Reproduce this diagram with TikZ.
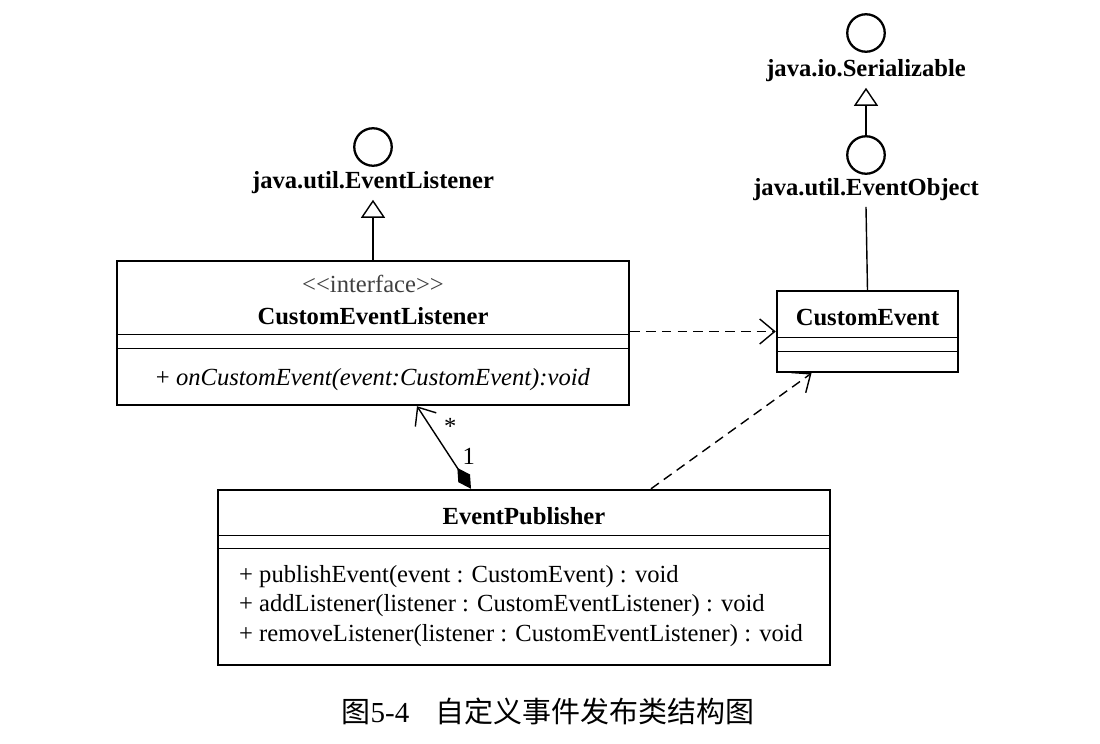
\documentclass[tikz,border=0pt]{standalone}
\usepackage{fontspec}
\setmainfont{Liberation Serif}
\newfontfamily\cjk{Noto Sans CJK SC}
\usetikzlibrary{arrows.meta,calc}

\tikzset{
  classbox/.style={draw, line width=1.4pt, inner sep=0pt},
  sepline/.style={line width=0.8pt},
  lolli/.style={draw, circle, line width=1.3pt, minimum size=0.75cm, inner sep=0pt},
  ifname/.style={font=\fontsize{14}{16.8}\selectfont\bfseries, inner xsep=1pt, inner ysep=3pt},
  realize/.style={line width=0.8pt, -{Triangle[open, length=0.36cm, width=0.48cm, line width=0.8pt]}},
  depend/.style={line width=0.8pt, dash pattern=on 5.5pt off 3.5pt, -{Straight Barb[length=0.3cm, width=0.5cm, line width=0.8pt]}},
  compose/.style={line width=0.8pt, {Diamond[length=0.5cm, width=0.28cm]}-{Straight Barb[length=0.3cm, width=0.5cm, line width=0.8pt]}},
}

\begin{document}
\begin{tikzpicture}[x=0.02cm,y=-0.02cm,every node/.style={font=\fontsize{14}{16.8}\selectfont}]
\useasboundingbox (0,0) rectangle (1100,744);

% interfaces (lollipops)
\node[lolli] (elcirc) at (373,147) {};
\node[ifname] (ellab) at (373,183) {java.util.EventListener};
\node[lolli] (sercirc) at (866,33) {};
\node[ifname] (serlab) at (866,71) {java.io.Serializable};
\node[lolli] (eocirc) at (866,155) {};
\node[ifname] (eolab) at (866,190) {java.util.EventObject};

% CustomEventListener
\node[classbox, minimum width=10.24cm, minimum height=2.88cm] (cel) at (373,333) {};
\draw[sepline] ($(cel.north west)+(0,75)$) -- ($(cel.north east)+(0,75)$);
\draw[sepline] ($(cel.north west)+(0,89)$) -- ($(cel.north east)+(0,89)$);
\node[text=black!75] (celst) at (373,284) {\textless\kern0pt\textless interface\textgreater\kern0pt\textgreater};
\node[font=\fontsize{14}{16.8}\selectfont\bfseries] (celname) at (373,316) {CustomEventListener};
\node (celop) at (373,380) {+ \textit{onCustomEvent(event:CustomEvent):void}};

% CustomEvent
\node[classbox, minimum width=3.62cm, minimum height=1.62cm] (ce) at (867.5,331.5) {};
\draw[sepline] ($(ce.north west)+(0,48)$) -- ($(ce.north east)+(0,48)$);
\draw[sepline] ($(ce.north west)+(0,62)$) -- ($(ce.north east)+(0,62)$);
\node[font=\fontsize{14}{16.8}\selectfont\bfseries] (cename) at (867.5,318) {CustomEvent};

% EventPublisher
\node[classbox, minimum width=12.24cm, minimum height=3.5cm] (ep) at (524,577.5) {};
\draw[sepline] ($(ep.north west)+(0,47)$) -- ($(ep.north east)+(0,47)$);
\draw[sepline] ($(ep.north west)+(0,60)$) -- ($(ep.north east)+(0,60)$);
\node[font=\fontsize{14}{16.8}\selectfont\bfseries] (epname) at (524,516) {EventPublisher};
\node[anchor=west, align=left, font=\fontsize{14}{16.7}\selectfont] (epops) at (233,606)
  {+ publishEvent(event : CustomEvent) : void\\
   + addListener(listener : CustomEventListener) : void\\
   + removeListener(listener : CustomEventListener) : void};

% connectors
\draw[realize] (cel.north) -- (ellab.south);
\draw[realize] (eocirc.north) -- (serlab.south);
\draw[line width=0.8pt] (ce.north) -- (eolab.south);
\draw[depend] (cel.east |- ce.west) -- (ce.west);
\draw[depend] ($(ep.north)+(127,0)$) -- ($(ce.south)+(-56,0)$);
\draw[compose] ($(ep.north)+(-53,0)$) -- ($(cel.south)+(44,0)$)
  node[pos=0.39, right=0.12cm] (one) {1}
  node[pos=0.75, right=0.14cm] (many) {*};

% caption
\node[font=\fontsize{16.5}{19}\selectfont] (cap) at (548,711) {{\cjk 图}5-4\hspace{0.9em}{\cjk 自定义事件发布类结构图}};
\end{tikzpicture}
\end{document}
